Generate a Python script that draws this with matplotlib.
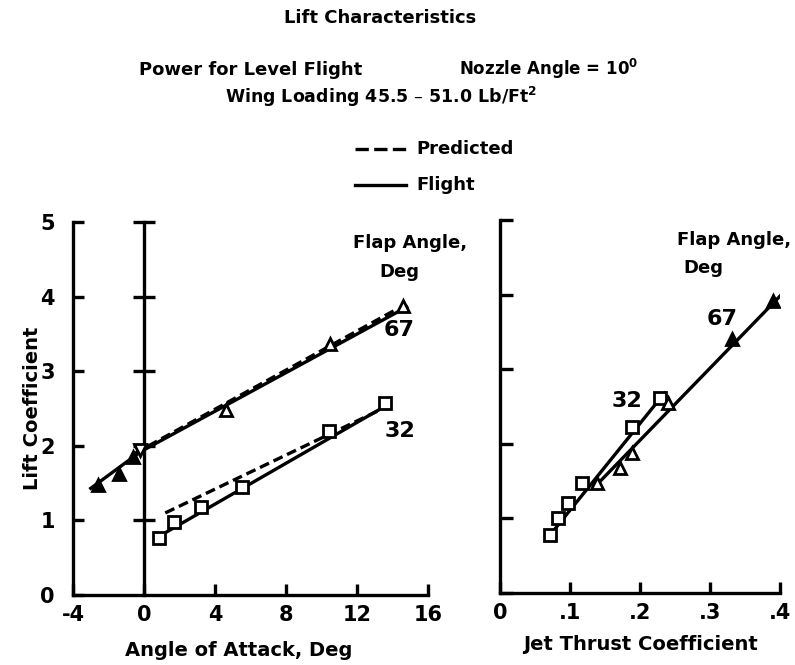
import numpy as np
import matplotlib
matplotlib.use("Agg")
import matplotlib.pyplot as plt

plt.rcParams['font.family'] = ['DejaVu Sans']
plt.rcParams['font.weight'] = 'bold'
plt.rcParams['mathtext.default'] = 'bf'

# lift coefficient vs angle of attack
aoa_67 = [-2.6, -1.4, -0.6, -0.2, 4.6, 10.5, 14.6]
cl_aoa_67 = [1.47, 1.62, 1.85, 1.95, 2.48, 3.36, 3.88]
aoa_67_marker = ['^', '^', '^', 'v', '^', '^', '^']
aoa_67_filled = [True, True, True, False, False, False, False]
aoa_32 = [0.85, 1.7, 3.2, 5.5, 10.4, 13.6]
cl_aoa_32 = [0.76, 0.98, 1.18, 1.45, 2.2, 2.58]

# faired curves
flight_aoa_67 = [-3.0, -0.2, 14.8]
flight_cl_67 = [1.43, 1.92, 3.86]
pred_aoa_67 = [-0.5, 14.3]
pred_cl_67 = [1.9, 3.84]
flight_aoa_32 = [0.8, 13.8]
flight_cl_32 = [0.78, 2.56]
pred_aoa_32 = [1.2, 13.2]
pred_cl_32 = [1.1, 2.47]

# lift coefficient vs jet thrust coefficient
ct_32 = [0.071, 0.083, 0.097, 0.117, 0.188, 0.229]
cl_ct_32 = [0.78, 1.0, 1.2, 1.48, 2.22, 2.62]
ct_67 = [0.138, 0.171, 0.188, 0.24, 0.331, 0.39]
cl_ct_67 = [1.48, 1.67, 1.88, 2.55, 3.4, 3.92]
ct_67_filled = [False, False, False, False, True, True]

flight_ct_32 = [0.07, 0.235]
flight_clct_32 = [0.76, 2.68]
flight_ct_67 = [0.135, 0.40]
flight_clct_67 = [1.42, 3.98]

cl_ticks = [0, 1, 2, 3, 4, 5]
aoa_ticks = [-4, 0, 4, 8, 12, 16]
ct_ticks = [0, 0.1, 0.2, 0.3, 0.4]
ct_labels = ['0', '.1', '.2', '.3', '.4']

W, H = 795, 665
fig = plt.figure(figsize=(W / 100, H / 100), dpi=100)
lw = 2.4
dash = (0, (3, 1.5))


def px_axes(x0, y0, x1, y1):
    return fig.add_axes([x0 / W, 1 - y0 / H, (x1 - x0) / W, (y0 - y1) / H])


def style(ax):
    for s in ['top', 'right']:
        ax.spines[s].set_visible(False)
    for s in ['left', 'bottom']:
        ax.spines[s].set_linewidth(lw)
    ax.tick_params(direction='in', length=8, width=lw, labelsize=15)
    ax.tick_params(axis='y', pad=13)
    ax.tick_params(axis='x', pad=7)
    ax.set_ylim(0, 5)


# ---- left panel
ax1 = px_axes(73, 595, 428, 222)
style(ax1)
ax1.set_xlim(-4, 16)
ax1.set_xticks(aoa_ticks)
ax1.set_xticklabels([str(t) for t in aoa_ticks])
ax1.set_yticks(cl_ticks)
ax1.set_yticklabels([str(t) for t in cl_ticks])

# zero-alpha reference line with crossing ticks
ax1.plot([0, 0], [0, 5], color='black', lw=lw, clip_on=False)
ax1.plot([0] * 5, cl_ticks[1:], ls='none', marker='_', ms=16, mew=lw,
         color='black', clip_on=False)

ax1.plot(flight_aoa_67, flight_cl_67, color='black', lw=lw)
ax1.plot(pred_aoa_67, pred_cl_67, color='black', lw=lw, ls=dash)
ax1.plot(flight_aoa_32, flight_cl_32, color='black', lw=lw)
ax1.plot(pred_aoa_32, pred_cl_32, color='black', lw=lw, ls=dash)
for x, y, m, f in zip(aoa_67, cl_aoa_67, aoa_67_marker, aoa_67_filled):
    ax1.plot(x, y, ls='none', marker=m, ms=8, mew=2,
             mfc='black' if f else 'white', mec='black', zorder=3)
ax1.plot(aoa_32, cl_aoa_32, ls='none', marker='s', ms=8, mew=2,
         mfc='white', mec='black', zorder=3)

ax1.set_xlabel('Angle of Attack, Deg', fontsize=14, fontweight='bold')
ax1.xaxis.set_label_coords(0.468, -0.122)
ax1.set_ylabel('Lift Coefficient', fontsize=14, fontweight='bold', labelpad=-1)
ax1.text(15.0, 4.72, 'Flap Angle,', fontsize=13, fontweight='bold',
         ha='center', va='center', clip_on=False)
ax1.text(14.4, 4.33, 'Deg', fontsize=13, fontweight='bold', ha='center', va='center')
ax1.text(14.4, 3.55, '67', fontsize=16, fontweight='bold', ha='center', va='center')
ax1.text(14.4, 2.2, '32', fontsize=16, fontweight='bold', ha='center', va='center')

# ---- right panel
ax2 = px_axes(500, 593, 780, 220)
style(ax2)
ax2.set_xlim(0, 0.4)
ax2.set_xticks(ct_ticks)
ax2.set_xticklabels(ct_labels)
ax2.set_yticks(cl_ticks)
ax2.set_yticklabels([])
ax2.tick_params(axis='y', length=9)

ax2.plot(flight_ct_32, flight_clct_32, color='black', lw=lw)
ax2.plot(flight_ct_67, flight_clct_67, color='black', lw=lw)
ax2.plot(ct_32, cl_ct_32, ls='none', marker='s', ms=8, mew=2,
         mfc='white', mec='black', zorder=3)
for x, y, f in zip(ct_67, cl_ct_67, ct_67_filled):
    ax2.plot(x, y, ls='none', marker='^', ms=8, mew=2,
             mfc='black' if f else 'white', mec='black', zorder=3)

ax2.set_xlabel('Jet Thrust Coefficient', fontsize=14, fontweight='bold', labelpad=9)
ax2.text(0.335, 4.73, 'Flap Angle,', fontsize=13, fontweight='bold',
         ha='center', va='center')
ax2.text(0.29, 4.35, 'Deg', fontsize=13, fontweight='bold', ha='center', va='center')
ax2.text(0.317, 3.67, '67', fontsize=16, fontweight='bold', ha='center', va='center')
ax2.text(0.181, 2.58, '32', fontsize=16, fontweight='bold', ha='center', va='center')

# ---- header and legend
fig.text(380 / W, 1 - 18 / H, 'Lift Characteristics', fontsize=13,
         fontweight='bold', ha='center', va='center')
fig.text(251 / W, 1 - 70 / H, 'Power for Level Flight', fontsize=13,
         fontweight='bold', ha='center', va='center')
fig.text(549 / W, 1 - 69 / H, 'Nozzle Angle = 10$^{0}$', fontsize=12,
         fontweight='bold', ha='center', va='center')
fig.text(381 / W, 1 - 97 / H, 'Wing Loading 45.5 \u2013 51.0 Lb/Ft$^{2}$',
         fontsize=12.5, fontweight='bold', ha='center', va='center')

fig.add_artist(plt.Line2D([355 / W, 406 / W], [1 - 149 / H] * 2, color='black',
                          lw=lw, ls=(0, (4, 1.6))))
fig.add_artist(plt.Line2D([355 / W, 406 / W], [1 - 185 / H] * 2, color='black', lw=lw))
fig.text(416 / W, 1 - 149 / H, 'Predicted', fontsize=13, fontweight='bold',
         ha='left', va='center')
fig.text(416 / W, 1 - 185 / H, 'Flight', fontsize=13, fontweight='bold',
         ha='left', va='center')

fig.savefig('out.png', dpi=100)
